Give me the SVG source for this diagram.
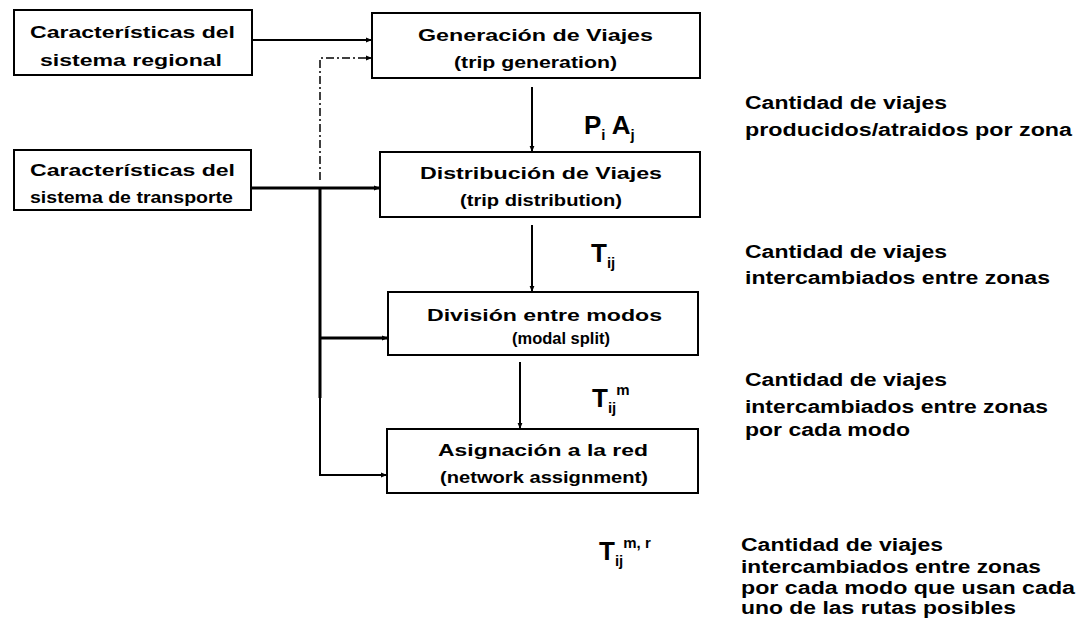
<svg xmlns="http://www.w3.org/2000/svg" width="1077" height="618" viewBox="0 0 1077 618">
<defs>
<style>
.box{fill:#fff;stroke:#000;stroke-width:2}
.t{font-family:"Liberation Sans",Arial,sans-serif;font-weight:bold;font-size:17px;fill:#000;text-anchor:start}
.r{font-family:"Liberation Sans",Arial,sans-serif;font-weight:bold;font-size:18px;fill:#000}
.v{font-family:"Liberation Sans",Arial,sans-serif;font-weight:bold;fill:#000}
.ln{fill:none;stroke:#000;stroke-width:2}
.thick{fill:none;stroke:#000;stroke-width:3}
.dd{fill:none;stroke:#000;stroke-width:1.5;stroke-dasharray:8 3 2 3}
</style>
<marker id="ah" viewBox="0 0 10 10" refX="10" refY="5" markerWidth="6" markerHeight="6" markerUnits="userSpaceOnUse" orient="auto">
<path d="M0,1 L10,5 L0,9 Z" fill="#000"/>
</marker>
</defs>
<rect width="1077" height="618" fill="#fff"/>
<g id="connectors">
<path class="ln" d="M252,40 H372" marker-end="url(#ah)"/>
<path class="dd" d="M320,180 V58 H372" marker-end="url(#ah)"/>
<path class="thick" d="M251,188 H380" marker-end="url(#ah)"/>
<path class="thick" d="M320,188 V398"/>
<path class="ln" d="M320,398 V475 H387" marker-end="url(#ah)"/>
<path class="thick" d="M320,338 H388" marker-end="url(#ah)"/>
<path class="ln" d="M532,87 V152" marker-end="url(#ah)"/>
<path class="ln" d="M532,225 V292" marker-end="url(#ah)"/>
<path class="ln" d="M520,362 V429" marker-end="url(#ah)"/>
</g>
<g id="n-regional">
<rect class="box" x="14" y="10" width="238" height="65"/>
<text class="t" x="30" y="38" textLength="205" lengthAdjust="spacingAndGlyphs">Características del</text>
<text class="t" x="40" y="66" textLength="182" lengthAdjust="spacingAndGlyphs">sistema regional</text>
</g>
<g id="n-transporte">
<rect class="box" x="14" y="150" width="237" height="60"/>
<text class="t" x="30" y="176" textLength="205" lengthAdjust="spacingAndGlyphs">Características del</text>
<text class="t" x="30" y="203" textLength="203" lengthAdjust="spacingAndGlyphs">sistema de transporte</text>
</g>
<g id="n-generacion">
<rect class="box" x="372" y="13" width="328" height="65"/>
<text class="t" x="418" y="41" textLength="235" lengthAdjust="spacingAndGlyphs">Generación de Viajes</text>
<text class="t" x="454" y="68" textLength="163" lengthAdjust="spacingAndGlyphs">(trip generation)</text>
</g>
<g id="n-distribucion">
<rect class="box" x="380" y="152" width="320" height="65"/>
<text class="t" x="420" y="179" textLength="242" lengthAdjust="spacingAndGlyphs">Distribución de Viajes</text>
<text class="t" x="460" y="206" textLength="162" lengthAdjust="spacingAndGlyphs">(trip distribution)</text>
</g>
<g id="n-division">
<rect class="box" x="388" y="292" width="310" height="63"/>
<text class="t" x="427" y="321" textLength="235" lengthAdjust="spacingAndGlyphs">División entre modos</text>
<text class="t" x="512" y="344" textLength="98" lengthAdjust="spacingAndGlyphs">(modal split)</text>
</g>
<g id="n-asignacion">
<rect class="box" x="387" y="429" width="311" height="64"/>
<text class="t" x="438" y="456" textLength="210" lengthAdjust="spacingAndGlyphs">Asignación a la red</text>
<text class="t" x="440" y="483" textLength="208" lengthAdjust="spacingAndGlyphs">(network assignment)</text>
</g>
<g id="labels">
<text class="v" x="584" y="134" font-size="26">P<tspan font-size="15" dy="6">i</tspan><tspan dy="-6"> A</tspan><tspan font-size="15" dy="6">j</tspan></text>
<text class="v" x="591" y="262" font-size="26">T<tspan font-size="15" dy="6">ij</tspan></text>
<text class="v" x="592" y="407" font-size="26">T<tspan font-size="15" dy="6">ij</tspan><tspan font-size="15" dy="-18">m</tspan></text>
<text class="v" x="599" y="560" font-size="26">T<tspan font-size="15" dy="6">ij</tspan><tspan font-size="15" dy="-18">m, r</tspan></text>
</g>
<g id="desc">
<text class="r" x="745" y="109" textLength="202" lengthAdjust="spacingAndGlyphs">Cantidad de viajes</text>
<text class="r" x="745" y="136" textLength="327" lengthAdjust="spacingAndGlyphs">producidos/atraidos por zona</text>
<text class="r" x="745" y="258" textLength="202" lengthAdjust="spacingAndGlyphs">Cantidad de viajes</text>
<text class="r" x="745" y="284" textLength="305" lengthAdjust="spacingAndGlyphs">intercambiados entre zonas</text>
<text class="r" x="745" y="386" textLength="202" lengthAdjust="spacingAndGlyphs">Cantidad de viajes</text>
<text class="r" x="745" y="413" textLength="303" lengthAdjust="spacingAndGlyphs">intercambiados entre zonas</text>
<text class="r" x="745" y="436" textLength="165" lengthAdjust="spacingAndGlyphs">por cada modo</text>
<text class="r" x="741" y="551" textLength="202" lengthAdjust="spacingAndGlyphs">Cantidad de viajes</text>
<text class="r" x="741" y="573" textLength="300" lengthAdjust="spacingAndGlyphs">intercambiados entre zonas</text>
<text class="r" x="741" y="594" textLength="334" lengthAdjust="spacingAndGlyphs">por cada modo que usan cada</text>
<text class="r" x="741" y="614" textLength="275" lengthAdjust="spacingAndGlyphs">uno de las rutas posibles</text>
</g>
</svg>
